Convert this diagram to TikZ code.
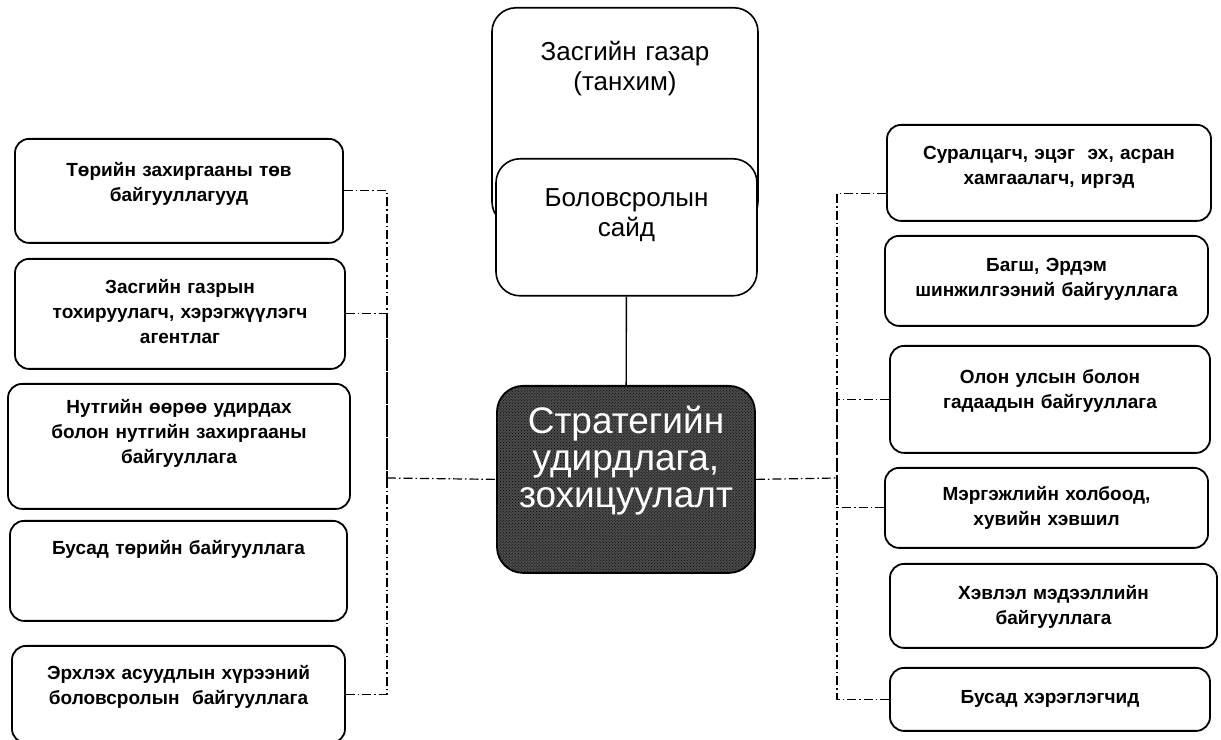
\documentclass[tikz,border=0pt]{standalone}
\usepackage{fontspec}
\setmainfont{Liberation Sans}
\usetikzlibrary{patterns}
\begin{document}
\begin{tikzpicture}[line join=round,
  unitbox/.style={draw,line width=1.8bp,rounded corners=14bp,anchor=north,inner xsep=4bp,inner ysep=0bp,text width=310bp,align=center,font=\fontsize{19bp}{25bp}\selectfont\bfseries},
  headbox/.style={draw,line width=1.6bp,rounded corners=24bp,fill=white,anchor=north,inner xsep=4bp,inner ysep=0bp,text width=240bp,align=center,font=\fontsize{26bp}{30bp}\selectfont},
  corebox/.style={draw,line width=1.8bp,rounded corners=26bp,fill=black!70,postaction={pattern=crosshatch dots,pattern color=black},text=white,anchor=north,inner xsep=4bp,inner ysep=0bp,text width=246bp,align=center,font=\fontsize{37bp}{37bp}\selectfont},
  link/.style={line width=1.2bp,dash pattern=on 9bp off 3bp on 1.5bp off 3bp},
]
\useasboundingbox (0bp,0bp) rectangle (1221bp,740bp);
%%
\node (cabinet) at (625bp,733bp) [headbox,minimum width=266bp,text height=53bp,text depth=165bp] {Засгийн газар\\(танхим)};
  \node (minister) at (626.5bp,582bp) [headbox,minimum width=261bp,text height=48bp,text depth=89bp] {Боловсролын\\сайд};
  \node (strategy) at (626bp,355bp) [corebox,minimum width=258bp,text height=48bp,text depth=139bp] {Стратегийн\\удирдлага,\\зохицуулалт};
  \node (central) at (179bp,602bp) [unitbox,minimum width=328bp,text height=38bp,text depth=66bp] {Төрийн захиргааны төв\\байгууллагууд};
  \node (agency) at (180bp,482bp) [unitbox,minimum width=330bp,text height=35bp,text depth=75bp] {Засгийн газрын\\тохируулагч, хэрэгжүүлэгч\\агентлаг};
  \node (local) at (179bp,357bp) [unitbox,minimum width=342bp,text height=30bp,text depth=95bp] {Нутгийн өөрөө удирдах\\болон нутгийн захиргааны\\байгууллага};
  \node (otherstate) at (178.5bp,220bp) [unitbox,minimum width=337bp,text height=34bp,text depth=66bp] {Бусад төрийн байгууллага};
  \node (sector) at (178.5bp,95bp) [unitbox,minimum width=333bp,text height=34bp,text depth=63bp] {Эрхлэх асуудлын хүрээний\\боловсролын\ \ байгууллага};
  \node (learners) at (1049bp,616bp) [unitbox,minimum width=324bp,text height=35bp,text depth=61bp] {Суралцагч, эцэг\ \ эх, асран\\хамгаалагч, иргэд};
  \node (research) at (1046.5bp,505bp) [unitbox,minimum width=323bp,text height=36bp,text depth=54bp] {Багш, Эрдэм\\шинжилгээний байгууллага};
  \node (foreign) at (1050bp,395bp) [unitbox,minimum width=320bp,text height=38bp,text depth=69bp] {Олон улсын болон\\гадаадын байгууллага};
  \node (private) at (1046.5bp,273bp) [unitbox,minimum width=323bp,text height=33bp,text depth=47bp] {Мэргэжлийн холбоод,\\хувийн хэвшил};
  \node (media) at (1053.5bp,177bp) [unitbox,minimum width=327bp,text height=36bp,text depth=48bp] {Хэвлэл мэдээллийн\\байгууллага};
  \node (users) at (1050bp,73bp) [unitbox,minimum width=320bp,text height=36bp,text depth=27bp] {Бусад хэрэглэгчид};
  \coordinate (leftbus) at (387bp,262bp);
  \coordinate (rightbus) at (837bp,262bp);
  \draw [line width=1.4bp] (minister) -- (strategy);
  \draw [link] (central.east) -| (leftbus);
  \draw [link] (agency.east) -| (leftbus);
  \draw [link] (sector.east) -| (leftbus);
  \draw [link] (leftbus) -- (strategy.west);
  \draw [link] (strategy.east) -- (rightbus);
  \draw [link] ([yshift=-21bp]learners.west) -| (rightbus);
  \draw [link] (foreign.west) -| (rightbus);
  \draw [link] (private.west) -| (rightbus);
  \draw [link] (users.west) -| (rightbus);
%
\end{tikzpicture}
\end{document}
